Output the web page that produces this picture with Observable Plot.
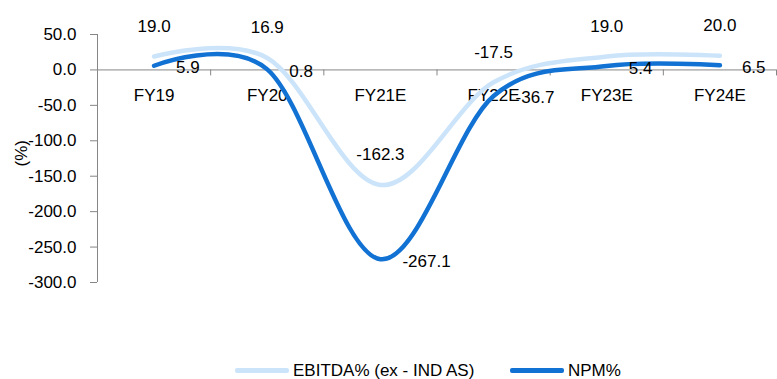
<!DOCTYPE html>
<html>
<head>
<meta charset="utf-8">
<script src="https://cdn.jsdelivr.net/npm/d3@7"></script>
<script src="https://cdn.jsdelivr.net/npm/@observablehq/plot@0.6"></script>
<style>
  html, body { margin: 0; padding: 0; background: #fff; }
  body { width: 777px; height: 379px; overflow: hidden; font-family: 'Liberation Sans', Arial, sans-serif; }
  #legend { position: relative; height: 17px; font-size: 17px; line-height: 17px; color: #000; }
  .item { position: absolute; top: 0; display: flex; align-items: center; height: 17px; }
  .swatch { width: 54px; height: 4.5px; border-radius: 2px; margin-right: 4px; }
</style>
</head>
<body>
<div id="chart"></div>
<div id="legend"></div>
<script>
const categories = ["FY19", "FY20", "FY21E", "FY22E", "FY23E", "FY24E"];
const ebitda = [19.0, 16.9, -162.3, -17.5, 19.0, 20.0];
const npm = [5.9, 0.8, -267.1, -36.7, 5.4, 6.5];
const yTicks = [50, 0, -50, -100, -150, -200, -250, -300];
const seriesNames = ["EBITDA% (ex - IND AS)", "NPM%"];
const seriesColors = ["#cce4fa", "#1272d4"];

const rows = categories.map((c, i) => ({i, c, ebitda: ebitda[i], npm: npm[i]}));
const boundaries = categories.map((c, i) => i - 0.5).concat([categories.length - 0.5]);
const gray = "#868686";
const fs = 17;

const chart = Plot.plot({
  width: 777,
  height: 362,
  marginLeft: 97,
  marginRight: 1,
  marginTop: 34,
  marginBottom: 80,
  x: {type: "linear", domain: [-0.5, categories.length - 0.5], axis: null},
  y: {domain: [-300, 50], axis: null},
  style: {fontFamily: "'Liberation Sans', Arial, sans-serif", fontSize: "17px", color: "#000", background: "white", overflow: "visible"},
  marks: [
    Plot.axisY({ticks: yTicks, anchor: "left", tickSize: 7, tickPadding: 14, tickFormat: d => d.toFixed(1), stroke: gray, fill: "#000", label: null, fontSize: fs}),
    Plot.ruleX([-0.5], {y1: -300, y2: 50, stroke: gray}),
    Plot.ruleY([0], {stroke: gray}),
    Plot.ruleX(boundaries, {x: d => d, y1: 0, y2: 0, insetBottom: -6, stroke: gray}),
    Plot.text(rows, {x: "i", y: () => 0, text: "c", dy: 26, fontSize: fs, fill: "#000"}),
    Plot.text(["(%)"], {frameAnchor: "left", dx: -76, dy: 8, rotate: -90, fontSize: fs, fill: "#000"}),
    Plot.line(rows, {x: "i", y: "ebitda", curve: "cardinal", stroke: seriesColors[0], strokeWidth: 4.5, strokeLinecap: "round"}),
    Plot.line(rows, {x: "i", y: "npm", curve: "cardinal", stroke: seriesColors[1], strokeWidth: 4.5, strokeLinecap: "round"}),
    Plot.text(rows, {x: "i", y: "ebitda", text: d => d.ebitda.toFixed(1), dy: -30, fontSize: fs, fill: "#000"}),
    Plot.text(rows, {x: "i", y: "npm", text: d => d.npm.toFixed(1), textAnchor: "start", dx: 22, dy: 2, fontSize: fs, fill: "#000"})
  ]
});
document.getElementById("chart").appendChild(chart);

const legend = document.getElementById("legend");
const lefts = [235, 510];
seriesNames.forEach((name, k) => {
  const item = document.createElement("div");
  item.className = "item";
  item.style.left = lefts[k] + "px";
  const sw = document.createElement("span");
  sw.className = "swatch";
  sw.style.background = seriesColors[k];
  const tx = document.createElement("span");
  tx.textContent = name;
  item.appendChild(sw);
  item.appendChild(tx);
  legend.appendChild(item);
});
</script>
</body>
</html>
